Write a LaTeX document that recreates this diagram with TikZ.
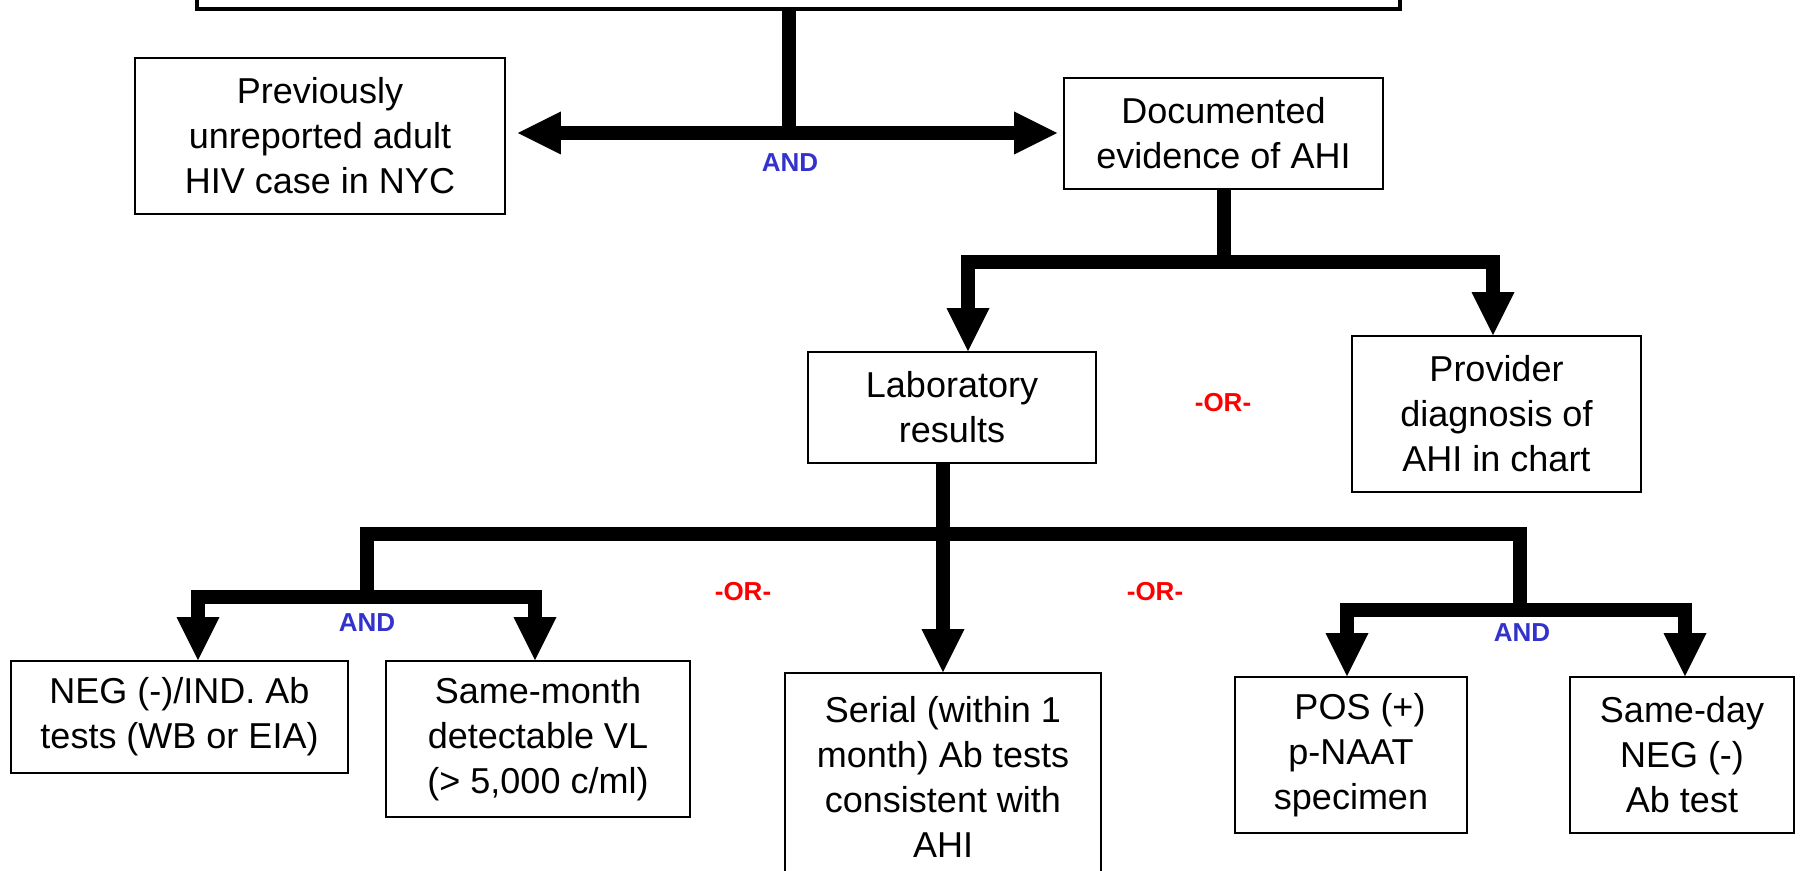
\documentclass[tikz,border=0pt]{standalone}
\usepackage{fontspec}
\setmainfont{Liberation Sans}
\usepackage{xcolor}
\usetikzlibrary{arrows.meta}
\definecolor{andblue}{RGB}{51,51,204}
\tikzset{
  crit/.style = {draw=black, line width=0.8pt, align=center, inner sep=0pt,
    font=\fontsize{18}{22.5}\selectfont},
  topbox/.style = {draw=black, line width=2pt},
  bar/.style = {line width=7pt, line join=miter},
  andlbl/.style = {text=andblue, font=\bfseries\fontsize{13}{15}\selectfont},
  orlbl/.style = {text=red, font=\bfseries\fontsize{13}{15}\selectfont}
}

\begin{document}
\begin{tikzpicture}[x=0.5pt, y=-0.5pt,
  >={Triangle[width=21.5pt, length=21.5pt, line width=0pt]}]
\useasboundingbox (0,0) rectangle (1800,871);

% boxes
\node [topbox, minimum width=601.5pt, minimum height=40pt] (top) at (798.5,-31) {};
\node [crit, minimum width=185pt, minimum height=78pt] (prev) at (320,136)
  {Previously\\unreported adult\\HIV case in NYC};
\node [crit, minimum width=159.5pt, minimum height=55.5pt] (doc) at (1223.5,133.5)
  {Documented\\evidence of AHI};
\node [crit, minimum width=144pt, minimum height=55.5pt] (lab) at (952,407.5)
  {Laboratory\\results};
\node [crit, minimum width=144.5pt, minimum height=78pt] (prov) at (1496.5,414)
  {Provider\\diagnosis of\\AHI in chart};
\node [crit, minimum width=168.5pt, minimum height=56pt] (neg) at (179.5,717)
  {NEG (-)/IND. Ab\\tests (WB or EIA)};
\node [crit, minimum width=152pt, minimum height=78pt] (vl) at (538,739)
  {Same-month\\detectable VL\\(> 5,000 c/ml)};
\node [crit, minimum width=158pt, minimum height=104pt] (ser) at (943,777)
  {Serial (within 1\\month) Ab tests\\consistent with\\AHI};
\node [crit, minimum width=116pt, minimum height=78pt] (pos) at (1351,755)
  {\hspace*{9pt}POS (+)\\p-NAAT\\specimen};
\node [crit, minimum width=112pt, minimum height=78pt] (sd) at (1682,755)
  {Same-day\\NEG (-)\\Ab test};

% junctions
\coordinate (j0) at (789,133);
\coordinate (j1) at (1223.5,262);
\coordinate (jm) at (943,534);
\coordinate (jl) at (367,597);
\coordinate (jr) at (1520,610);

% connectors
\draw [bar] (top.south -| j0) -- (j0);
\draw [bar, <->, shorten <=6pt, shorten >=3pt] (prev.east |- j0) -- (doc.west |- j0);
\draw [bar] (doc.south) -- (doc.south |- j1);
\draw [bar, <->] ([xshift=8pt]lab.north) |- (j1) -| ([xshift=-1.75pt]prov.north);
\draw [bar, ->] (lab.south -| ser.north) -- (ser.north);
\draw [bar] (jl) |- (jm) -| (jr);
\draw [bar, <->] ([xshift=9.25pt]neg.north) |- (jl) -| ([xshift=-1.5pt]vl.north);
\draw [bar, <->] ([xshift=-2pt]pos.north) |- (jr) -| ([xshift=1.5pt]sd.north);

% labels
\node [andlbl] (and1) at (790,163) {AND};
\node [andlbl] (and2) at (367,623) {AND};
\node [andlbl] (and3) at (1522,633) {AND};
\node [orlbl] (or1) at (1223,403) {-OR-};
\node [orlbl] (or2) at (743,592) {-OR-};
\node [orlbl] (or3) at (1155,592) {-OR-};
\end{tikzpicture}
\end{document}
